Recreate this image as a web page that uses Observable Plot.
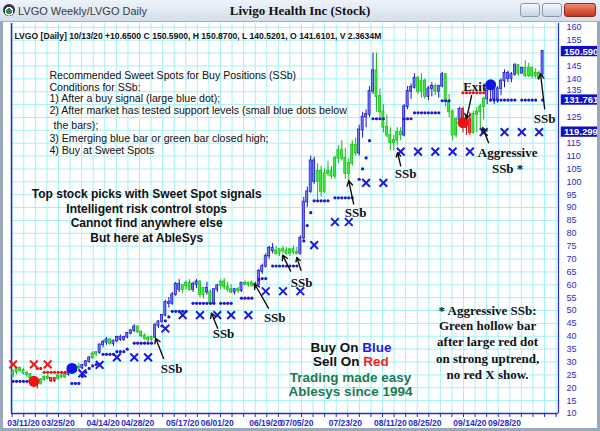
<!DOCTYPE html>
<html><head><meta charset="utf-8">
<script src="https://cdn.jsdelivr.net/npm/d3@7"></script>
<script src="https://cdn.jsdelivr.net/npm/@observablehq/plot@0.6"></script>
<style>
html,body{margin:0;padding:0;}
body{width:600px;height:431px;overflow:hidden;background:#ffffff;position:relative;font-family:"Liberation Sans",Arial,sans-serif;}
#bar{position:absolute;left:0;top:0;width:600px;height:22px;background:linear-gradient(#eef3f9,#d3dfec);border-bottom:1px solid #9fb0c4;box-sizing:border-box;}
#bar .l{position:absolute;left:18px;top:5px;font-size:11px;color:#3a3a3a;}
#bar .ic{position:absolute;left:3px;top:4px;width:12px;height:12px;border-radius:50%;background:radial-gradient(circle at 50% 60%,#2e8b57 0 30%,#ffffff 32% 45%,#334 48%);}
#bar .t{position:absolute;left:0;width:600px;top:3px;text-align:center;font:bold 13px "Liberation Serif","Times New Roman",serif;color:#111;}
.btn{position:absolute;top:3px;height:14px;border:1px solid #8899aa;border-radius:3px;background:linear-gradient(#f4f7fb,#c9d5e3);box-sizing:border-box;}
.btn.x{background:linear-gradient(#f08a70,#c8321c);border-color:#8a2a1a;}
#chart{position:absolute;left:0;top:22px;}
.edge{position:absolute;background:#9aaabd;}
</style></head><body>
<div id="bar"><div class="ic"></div><div class="l">LVGO Weekly/LVGO Daily</div><div class="t">Livigo Health Inc (Stock)</div>
<div class="btn" style="left:520px;width:20px"></div><div class="btn" style="left:542px;width:20px"></div><div class="btn x" style="left:564px;width:32px"></div></div>
<div id="chart"></div>
<div class="edge" style="left:0;top:22px;width:3px;height:409px"></div>
<div class="edge" style="left:597px;top:22px;width:3px;height:409px"></div>
<div class="edge" style="left:0;top:428px;width:600px;height:3px"></div>
<script>
// ---- price bars (trading-day index 0 = 03/06/20) ----
const open = [25,26,27.5,26.5,25.5,25,23.5,22,21.5,23,
24,23.5,22.5,23.5,24.5,24,25,26,27.5,28,
27.5,28.5,30,31.5,33,33.5,36.5,37.5,38.5,37,
38,39.5,38.5,39.5,41,42,43.5,41.5,40,39,
38.5,39.5,44,45.5,48,53,52.5,56,60,58,
59.5,60.5,58,60,61,56,58.5,57,53,58,
59.5,61,59,58,57,58,57.5,60.5,60,60.5,
59.5,60,65,67,71,74,73,72,73.5,73,
72,73.5,72.5,72,78,92,96,108,100,104,
96,103,104,102,109,112,109,103,107,114,
111,120,125,126,135,143,133,127,121,118,
115,116,119,118,129,135,136.5,140,135,139,
133,136,137,135,137,141.5,131,127,118,124,
128,121,124,119,126,127,129,132,136,137,
132,136,139,142,140,141.5,145,142,144,141,
144,141,142,141.61];
const high = [27,28,28,27.5,26.5,25.5,24,23,23.5,24.5,
25,24,24,25,25.5,25.5,26.5,28,29,29.5,
29,30.5,32,34,34,37,38.5,39.5,39,38.5,
40,40.5,40,41.5,42.5,44.5,44,42,41,40,
40,45,46,48.5,54,55,57,61,62,60,
61.5,62,61,62,61.5,59,61,58,58.5,60,
62,62.5,61,60,58.5,59,61,61.5,61,61.5,
61,66,68,72,75,76,75,74,75,74.5,
74,75,74.5,79,94,98,110,109.5,107,106,
105,108,106,110,114,116,113,109,116,117,
122,127,128,137,150,150,136,130,126,121,
118,121,121,130,137,138,142,141,142,140,
137,138.5,138,137.5,142.5,142,134,128,125,129,
129,126,127,127.5,129,130,133,138,139,138,
137,140,143.5,143,142.5,146,145.5,144.5,147,146,
144.5,144,143,150.87];
const low = [24,25,26,25,24,22.5,20,19.5,21,22.5,
23,22,22,23,23.5,23.5,24.5,25.5,26.5,27,
27,28,29.5,31,32,33,35.5,36.5,36.5,36,
37.5,38,38,39,40.5,41.5,41,39.5,38.5,37.5,
38,39,43,45,47.5,51,52,55.5,57,56.5,
58,57.5,57,58.5,55,54.5,56,52,53,57,
58,58,57,56.5,56,56.5,57,59.5,59,59,
58.5,59.5,64,66.5,70,72,71.5,71,72,71.5,
71,71.5,71.5,71.5,77,90,95.5,99,93,94,
95.5,102,101,101,107,108,101,100,106,110,
110,117,121,125,134,127,125,119,117,112,
112,114,116,117.5,128,132,136,134,132.5,132,
131.5,133,133.5,132.5,136.5,129,125,116,117,123,
119,118,118,118.5,119,120,124,130,131,130,
130.5,133.5,136.5,138.5,138.5,141,141,142,140.5,140.5,
140,140,139.5,140.52];
const close = [26,27.5,26.5,25.5,25,23.5,22,21.5,23,24,
23.5,22.5,23.5,24.5,24,25,26,27.5,28,27.5,
28.5,30,31.5,33,33.5,36.5,37.5,38.5,37,38,
39.5,38.5,39.5,41,42,43.5,41.5,40,39,38.5,
39.5,44,45.5,48,53,52.5,56,60,58,59.5,
60.5,58,60,61,56,58.5,57,53,58,59.5,
61,59,58,57,58,57.5,60.5,60,60.5,59.5,
60,65,67,71,74,73,72,73.5,73,72,
73.5,72.5,72,78,92,96,108,100,104,96,
103,104,102,109,112,109,103,107,114,111,
120,125,126,135,143,133,127,121,118,115,
116,119,118,129,135,136.5,140,135,139,133,
136,137,135,137,141.5,131,127,118,124,128,
121,124,119,126,127,129,132,136,137,132,
136,139,142,140,141.5,145,142,144,141,144,
141,142,140,150.59];
const tone = ("gggggg rrgg grrgggbbbg bbbggbbbgb bbbbbbgggg gbbbbbbbbg ggbbggbgbb ggggbgbggg bbbbbbgggg gggbbbbbgg gggggggggg bbbbbggggg gggbbbbggg bbgbbggggb rrrggggbbb bbbbbbgbgg gggb").replace(/ /g,"").split("");

// ---- signal markers ----
const supportBlue = [[0,22.5],[1,22.5],[2,22.5],[3,22.5],[4,22.5],[5,22.5],
[17,21.7],[18,21.7],[19,21.7],[20,24.4],[21,26],[22,27.5],[23,28.5],[24,29],[25,29],
[26,33],[27,33],[28,33],[29,33],[30,34],[31,34],[32,34],[33,35],[35,37.3],[36,37.3],[37,37.3],[38,37.3],[39,37.3],[40,37.3],
[43,44],[44,46],[45,47.5],[46,49.7],[47,49.7],[48,49.7],[49,49.7],[50,49.7],
[52,52.8],[53,52.8],[54,52.8],[55,52.8],[56,52.8],[57,52.8],[58,52.8],[60,52.8],[61,52.8],[62,52.8],[63,52.8],
[66,54.8],[67,54.8],[68,54.8],[69,54.8],[71,62],[72,62.4],[73,62.4],
[75,67.3],[76,67.3],[77,67.3],[78,67.3],[79,67.3],[80,67.3],[81,67.3],[82,67.3],
[84,77],[85,83],[86,88],[87,92.6],[88,92.6],[89,92.6],[90,92.6],[91,92.6],[93,93.8],[94,93.8],[95,93.8],[96,93.8],[97,93.8],[98,93.8],
[100,101],[101,105],[102,109.3],[103,116],[104,124.5],[105,124.5],[106,124.5],[107,124.5],
[113,124.5],[114,124.5],[115,124.5],[116,126.8],[117,126.8],[118,126.8],[119,126.8],[120,126.8],[121,126.8],[122,126.8],[123,126.8],
[124,131.5],[125,131.5],[126,131.5],
[138,131.76],[139,131.76],[140,131.76],[141,131.76],[142,131.76],[143,131.76],[144,131.76],[145,131.76],[147,131.76],[148,131.76],[149,131.76],[150,131.76],[151,131.76],[153,131.76]];
const supportRed = [[7,27.5],[8,27.5],[9,26],[10,26],[11,26],[12,26],[13,26],[14,26],[15,26],
[130,134.6],[131,134.6],[132,134.6],[133,134.6],[134,134.6],[135,134.6],[136,134.6]];
const stopBlueX = [[20,25.6],[25,28.9],[30,31.8],[35,31.8],[39,31.8],[44,43],[49,48.2],[54,48.2],[59,48.2],[63,48.2],[68,48.2],
[73,57.5],[78,57.5],[83,57.5],[87,75.4],[93,84.4],[97,84.4],[102,99.6],[107,99.6],
[112,111.7],[117,111.7],[122,111.7],[127,111.7],[132,111.7],[136,119.3],[142,119.3],[147,119.3],[152,119.3]];
const stopRedX = [[0,29.1],[6,29.1],[10,29.1]];
const bigDots = [[6,22.5,"sell"],[17,27.5,"buy"],[130,123,"sell"],[138,137.7,"buy"]];

// ---- axes ----
const yTicks = [10,15,20,25,30,35,40,45,50,55,60,65,70,75,80,85,90,95,100,105,110,115,125,140,145,155,160];
const yTickNearBox = [135];
const dateIdx = [3,13,26,36,49,59,73,82,96,109,119,132,142];
const dateLabels = ["03/11/20","03/25/20","04/14/20","04/28/20","05/17/20","06/01/20","06/19/20","07/05/20","07/23/20","08/11/20","08/25/20","09/14/20","09/28/20"];
const lastVals = [150.59,131.761,119.299];
const lastLabels = ["150.590","131.761","119.299"];

// ---- annotations ----
const header = "LVGO [Daily] 10/13/20 +10.6500 C 150.5900, H 150.8700, L 140.5201, O 141.6101, V 2.3634M";
const guideLines = ["Recommended Sweet Spots for Buy Positions (SSb)","Conditions for SSb:","1) After a buy signal (large blue dot);","2) After market has tested support levels (small blue dots below","the bars);","3) Emerging blue bar or green bar closed high;","4) Buy at Sweet Spots"];
const pitchLines = ["Top stock picks with Sweet Spot signals","Intelligent risk control stops","Cannot find anywhere else","But here at AbleSys"];
const noteLines = ["* Aggressive SSb:","Green hollow bar","after large red dot","on strong uptrend,","no red X show."];
const ssbAt = [[45.8,27.5],[60.8,40.8],[75.6,47.0],[83.4,60.6],[99,87.9],[113.4,103.1],[153.6,124.5]];
const arrowsAt = [[43.5,31.4,41.2,39.2],[59.1,43.1,57.3,49.0],[73.8,50.9,69.8,60.3],[80.2,65.3,77.9,71.5],[83.2,65.6,82,70.6],
[98.4,91.4,97,100.4],[112,106.2,111.1,111.3],[153.6,128.4,152.4,142],[132.5,133.5,131,124.5],[137.4,115.2,135.7,121]];

const bars = close.map((c,i)=>({i,o:open[i],h:high[i],l:low[i],c,t:tone[i]}));
const fillC = {b:"#7878ff",g:"#3cec3c",r:"#ff3b3b"};
const strokeC = {b:"#1414c8",g:"#14b814",r:"#d00000"};
const blue = "#2a2ad0";
const serif = "Liberation Serif, Times New Roman, serif";
const sans = "Liberation Sans, Arial, sans-serif";
const xDom = [-0.46,157.6];
const gridX = d3.range(-0.26,157.6,3.344);
const lab = new Map(dateIdx.map((d,k)=>[d,dateLabels[k]]));
const lines = (arr,xs,ys)=>arr.map((t,k)=>({t,x:Array.isArray(xs)?xs[k]:xs,y:ys[k]}));

const chart = Plot.plot({
  width:600,height:409,marginLeft:11,marginRight:42,marginTop:1,marginBottom:18,
  style:{background:"transparent",overflow:"visible"},
  x:{domain:xDom,axis:null},
  y:{domain:[10,161.5],axis:null},
  color:{type:"identity"},
  marks:[
    Plot.gridY(d3.range(10,161,5),{stroke:"#a6f1f5",strokeOpacity:1}),
    Plot.gridX(gridX,{stroke:"#a6f1f5",strokeOpacity:1}),
    Plot.ruleX([xDom[0]],{stroke:blue,strokeWidth:1.5}),
    Plot.ruleX([xDom[1]],{stroke:blue,strokeWidth:1.2}),
    Plot.ruleY([10],{stroke:blue,strokeWidth:1.5}),
    Plot.axisX(gridX,{tickSize:4,tickFormat:()=>"",stroke:blue}),
    Plot.axisX(dateIdx,{tickSize:0,tickPadding:6,tickFormat:d=>lab.get(d),fill:blue,fontWeight:"bold",fontSize:8.5,fontFamily:sans}),
    Plot.axisY(yTicks,{anchor:"right",tickSize:0,tickPadding:8,fill:blue,fontSize:9,fontFamily:sans}),
    Plot.axisY(yTickNearBox,{anchor:"right",tickSize:0,tickPadding:8,dy:-2,fill:blue,fontSize:9,fontFamily:sans}),
    Plot.rect(lastVals,{x1:158.4,x2:170,y1:d=>d-2.0,y2:d=>d+2.0,fill:"#0f0fc4"}),
    Plot.text(lastVals,{x:159.2,y:d=>d,text:(d,k)=>lastLabels[k],textAnchor:"start",fill:"white",fontWeight:"bold",fontSize:9.5,fontFamily:sans}),
    Plot.text([header],{x:0.4,y:156.4,text:d=>d,textAnchor:"start",fontWeight:"bold",fontSize:8.6,fontFamily:sans,fill:"#111"}),
    Plot.text(lines(guideLines,[10.5,10.5,10.5,10.5,11.7,10.5,10.5],[141.25,136.7,132.2,127.6,121.8,116.6,112.0]),{x:"x",y:"y",text:"t",textAnchor:"start",fontSize:10.6,fontFamily:sans,fill:"#111"}),
    Plot.text(lines(pitchLines,38.6,[95.3,89.5,84.0,78.2]),{x:"x",y:"y",text:"t",fontSize:12,fontWeight:"bold",fontFamily:sans,fill:"#111"}),
    Plot.text(lines(noteLines,137.1,[49.7,43.9,37.7,31.4,25.2]),{x:"x",y:"y",text:"t",fontSize:13,fontWeight:"bold",fontFamily:serif,fill:"#111"}),
    Plot.text(["Buy On","Sell On"],{x:[99.8,100.1],y:[35.7,30.1],text:d=>d,textAnchor:"end",fontSize:13.5,fontWeight:"bold",fontFamily:sans,fill:"#111"}),
    Plot.text(["Blue","Red"],{x:[100.9,101.2],y:[35.7,30.1],text:d=>d,textAnchor:"start",fontSize:13.5,fontWeight:"bold",fontFamily:sans,fill:["#1c1ce6","#ff1c1c"]}),
    Plot.text(["Trading made easy","Ablesys since 1994"],{x:97.5,y:[24.0,18.4],text:d=>d,fontSize:13.5,fontWeight:"bold",fontFamily:sans,fill:"#1d7a52"}),
    Plot.ruleX(bars,{x:"i",y1:"l",y2:"h",stroke:d=>strokeC[d.t],strokeWidth:1}),
    Plot.rect(bars,{x1:d=>d.i-0.3,x2:d=>d.i+0.3,y1:d=>Math.min(d.o,d.c),y2:d=>Math.max(d.o,d.c)+0.3,fill:d=>fillC[d.t],stroke:d=>strokeC[d.t],strokeWidth:0.7}),
    Plot.dot(supportBlue,{x:"0",y:"1",r:1.6,fill:"#1a1ad2",stroke:"none"}),
    Plot.dot(supportRed,{x:"0",y:"1",r:1.6,fill:"#ee1010",stroke:"none"}),
    Plot.dot(stopBlueX,{x:"0",y:"1",symbol:"times",r:3.6,stroke:"#1c1cd0",strokeWidth:2}),
    Plot.dot(stopRedX,{x:"0",y:"1",symbol:"times",r:3.6,stroke:"#ee1a1a",strokeWidth:2}),
    Plot.dot(bigDots,{x:"0",y:"1",r:5.5,fill:d=>d[2]==="buy"?"#1414e0":"#ee1414",stroke:"none"}),
    Plot.arrow(arrowsAt,{x1:"0",y1:"1",x2:"2",y2:"3",stroke:"#111",strokeWidth:1.4,headLength:6}),
    Plot.text(ssbAt,{x:"0",y:"1",text:()=>"SSb",fontSize:13,fontWeight:"bold",fontFamily:serif,fill:"#111"}),
    Plot.text(["Exit"],{x:133.4,y:137.0,text:d=>d,fontSize:13,fontWeight:"bold",fontFamily:serif,fill:"#111"}),
    Plot.text(["Aggressive","SSb *"],{x:142.9,y:[111.3,105.0],text:d=>d,fontSize:13,fontWeight:"bold",fontFamily:serif,fill:"#111"})
  ]
});
document.getElementById("chart").appendChild(chart);
</script>
</body></html>
